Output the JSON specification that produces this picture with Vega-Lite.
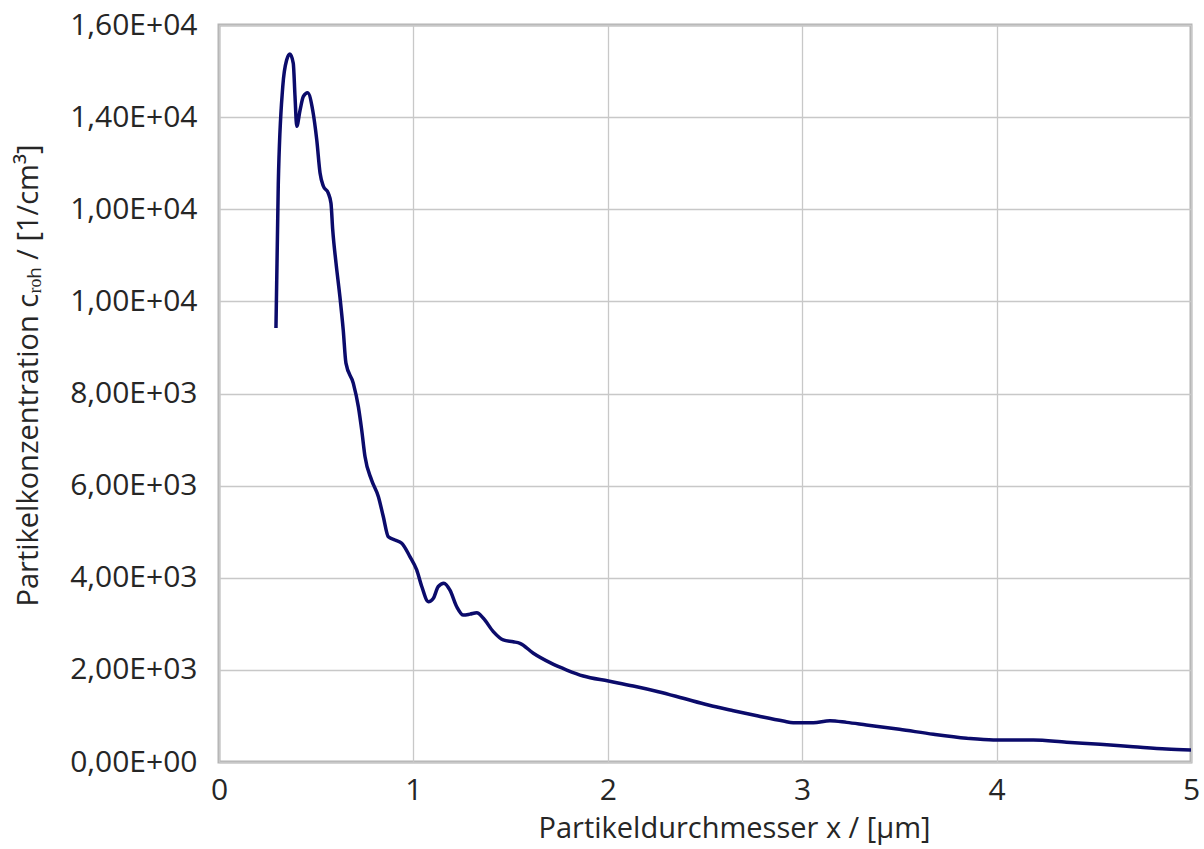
{
  "$schema": "https://vega.github.io/schema/vega-lite/v6.json",
  "autosize": {"type": "none"},
  "width": 972,
  "height": 737,
  "padding": {"left": 219, "top": 25, "right": 13, "bottom": 87},
  "background": "white",
  "config": {
    "font": "Open Sans",
    "view": {"stroke": "#b4b4b4", "strokeWidth": 3},
    "axis": {
      "labelFont": "Open Sans",
      "titleFont": "Open Sans",
      "labelFontSize": 30,
      "titleFontSize": 29,
      "labelColor": "#262626",
      "titleColor": "#262626",
      "titleFontWeight": "normal",
      "gridColor": "#c8c8c8",
      "gridWidth": 1.3,
      "domain": false,
      "ticks": false
    }
  },
  "data": {
    "values": [
      {"x": 0.293, "y": 9420},
      {"x": 0.305, "y": 12560},
      {"x": 0.328, "y": 14660},
      {"x": 0.348, "y": 15240},
      {"x": 0.365, "y": 15370},
      {"x": 0.382, "y": 15170},
      {"x": 0.391, "y": 14450},
      {"x": 0.400, "y": 13800},
      {"x": 0.417, "y": 14150},
      {"x": 0.434, "y": 14450},
      {"x": 0.456, "y": 14530},
      {"x": 0.482, "y": 14150},
      {"x": 0.503, "y": 13500},
      {"x": 0.520, "y": 12780},
      {"x": 0.537, "y": 12500},
      {"x": 0.562, "y": 12350},
      {"x": 0.576, "y": 12130},
      {"x": 0.585, "y": 11550},
      {"x": 0.602, "y": 10830},
      {"x": 0.622, "y": 10100},
      {"x": 0.639, "y": 9380},
      {"x": 0.653, "y": 8660},
      {"x": 0.691, "y": 8220},
      {"x": 0.717, "y": 7710},
      {"x": 0.734, "y": 7210},
      {"x": 0.751, "y": 6630},
      {"x": 0.785, "y": 6120},
      {"x": 0.820, "y": 5760},
      {"x": 0.845, "y": 5330},
      {"x": 0.871, "y": 4890},
      {"x": 0.905, "y": 4820},
      {"x": 0.940, "y": 4750},
      {"x": 0.982, "y": 4460},
      {"x": 1.017, "y": 4170},
      {"x": 1.043, "y": 3810},
      {"x": 1.077, "y": 3480},
      {"x": 1.102, "y": 3550},
      {"x": 1.128, "y": 3810},
      {"x": 1.157, "y": 3880},
      {"x": 1.188, "y": 3730},
      {"x": 1.223, "y": 3370},
      {"x": 1.257, "y": 3190},
      {"x": 1.291, "y": 3210},
      {"x": 1.326, "y": 3240},
      {"x": 1.360, "y": 3120},
      {"x": 1.411, "y": 2830},
      {"x": 1.462, "y": 2650},
      {"x": 1.514, "y": 2610},
      {"x": 1.548, "y": 2577},
      {"x": 1.617, "y": 2360},
      {"x": 1.703, "y": 2156},
      {"x": 1.789, "y": 1997},
      {"x": 1.874, "y": 1867},
      {"x": 2.003, "y": 1758},
      {"x": 2.131, "y": 1650},
      {"x": 2.260, "y": 1526},
      {"x": 2.388, "y": 1383},
      {"x": 2.517, "y": 1237},
      {"x": 2.646, "y": 1114},
      {"x": 2.774, "y": 999},
      {"x": 2.903, "y": 890},
      {"x": 2.954, "y": 853},
      {"x": 3.057, "y": 853},
      {"x": 3.143, "y": 897},
      {"x": 3.229, "y": 860},
      {"x": 3.330, "y": 803},
      {"x": 3.500, "y": 710},
      {"x": 3.675, "y": 601},
      {"x": 3.846, "y": 515},
      {"x": 3.983, "y": 478},
      {"x": 4.189, "y": 478},
      {"x": 4.360, "y": 428},
      {"x": 4.532, "y": 384},
      {"x": 4.703, "y": 332},
      {"x": 4.874, "y": 282},
      {"x": 5.000, "y": 260}
    ]
  },
  "mark": {"type": "line", "interpolate": "monotone", "color": "#0b0b6b", "strokeWidth": 3.5},
  "encoding": {
    "x": {
      "field": "x",
      "type": "quantitative",
      "scale": {"domain": [0, 5], "nice": false, "zero": false},
      "axis": {
        "values": [0, 1, 2, 3, 4, 5],
        "format": "d",
        "labelFlush": false,
        "labelPadding": 13,
        "title": "Partikeldurchmesser x / [µm]",
        "titlePadding": 9,
        "titleX": 515
      }
    },
    "y": {
      "field": "y",
      "type": "quantitative",
      "scale": {"domain": [0, 16000], "nice": false},
      "axis": {
        "values": [0, 2000, 4000, 6000, 8000, 10000, 12000, 14000, 16000],
        "labelExpr": "({'0':'0,00E+00','2000':'2,00E+03','4000':'4,00E+03','6000':'6,00E+03','8000':'8,00E+03','10000':'1,00E+04','12000':'1,00E+04','14000':'1,40E+04','16000':'1,60E+04'})[''+datum.value]",
        "labelFlush": false,
        "labelPadding": 22,
        "title": "Partikelkonzentration cᵣₒₕ / [1/cm³]",
        "titlePadding": 26,
        "titleY": 350
      }
    }
  }
}
